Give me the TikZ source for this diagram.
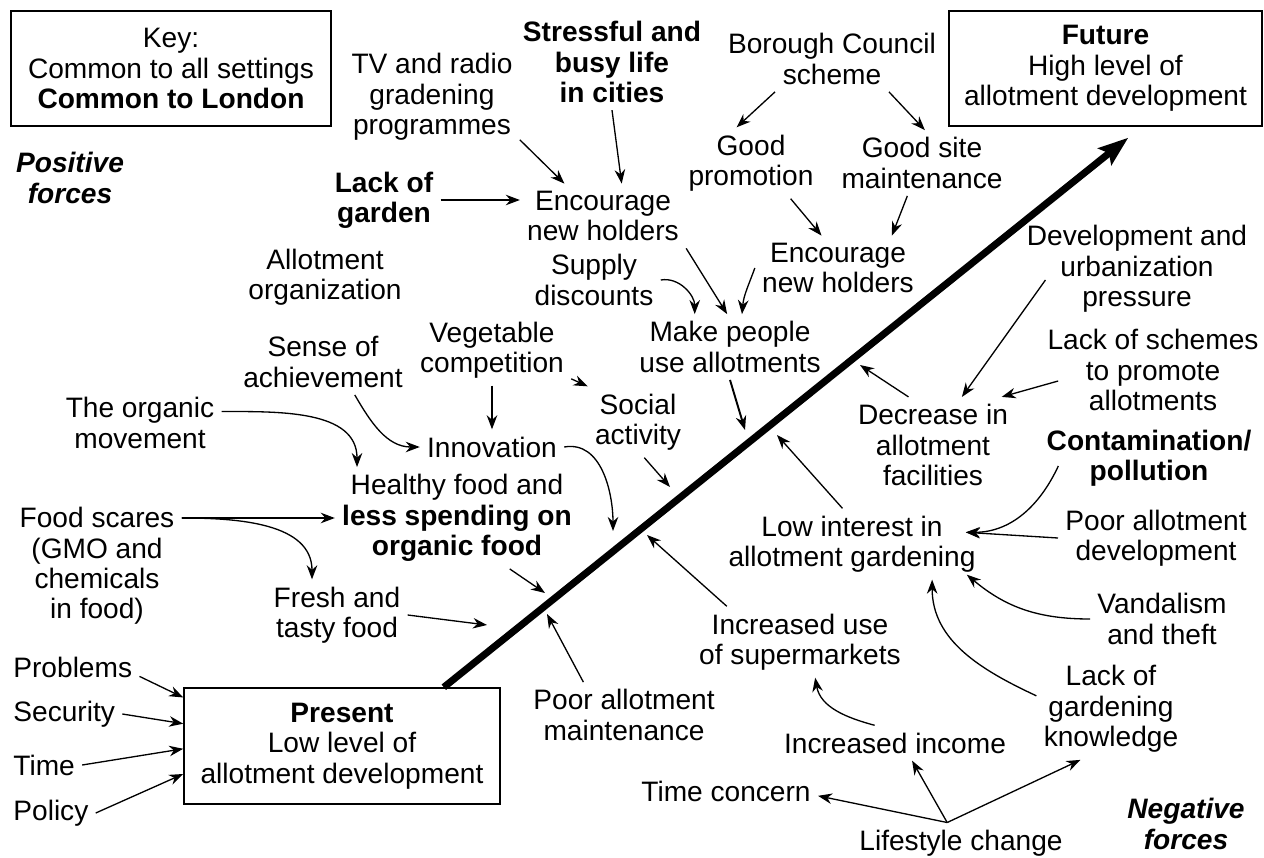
\documentclass[tikz,border=0pt]{standalone}
\usepackage{fontspec}
\setmainfont{Liberation Sans}
\usepackage{tikz}
\usetikzlibrary{positioning,arrows.meta,calc}
\newcommand{\ff}{\fontsize{16}{17.3}\selectfont}
\tikzset{
  fac/.style={align=center,inner sep=4pt,font=\ff},
  bfac/.style={fac,font=\ff\bfseries},
  ifac/.style={fac,font=\ff\bfseries\itshape},
  lbl/.style={anchor=west,inner sep=4pt,font=\ff},
  bx/.style={draw,line width=0.9pt,align=center,font=\ff,minimum height=2.3cm},
  arr/.style={-{Stealth[length=8pt,width=6pt]},line width=0.75pt},
  mainarr/.style={-{Stealth[length=17pt,width=12pt,inset=3pt]},line width=4pt},
}
\begin{document}
\begin{tikzpicture}[x=0.02cm,y=-0.02cm]
  \useasboundingbox (0,0) rectangle (1264,858);
  \node[bx,minimum width=6.4cm] (key) at (171,68.5) {Key:\\Common to all settings\\\textbf{Common to London}};
  \node[bx,minimum width=6.26cm] (future) at (1105.5,68.5) {\textbf{Future}\\High level of\\allotment development};
  \node[bx,minimum width=6.32cm,minimum height=2.32cm] (present) at (342,746) {\textbf{Present}\\Low level of\\allotment development};
  \draw[mainarr,shorten >=10pt] (present.30) -- (future.-58);

  \node[ifac] (pos) at (70,178) {Positive\\forces};
  \node[ifac] (neg) at (1186,824) {Negative\\forces};

  \node[fac] (tv) at (432,97) {TV and radio\\gradening\\programmes};
  \node[bfac] (stress) at (612,62) {Stressful and\\busy life\\in cities};
  \node[fac] (borough) at (832,59) {Borough Council\\scheme};
  \node[fac] (goodp) at (751,163) {Good\\promotion};
  \node[fac] (goods) at (922,163) {Good site\\maintenance};
  \node[bfac] (lackg) at (384,200) {Lack of\\garden};
  \node[fac] (enc1) at (603,216) {Encourage\\new holders};
  \node[fac] (enc2) at (838,268) {Encourage\\new holders};
  \node[fac] (supply) at (594,280) {Supply\\discounts};
  \node[fac] (allot) at (325,277) {Allotment\\organization};
  \node[fac] (make) at (730,347) {Make people\\use allotments};
  \node[fac] (sense) at (323,362) {Sense of\\achievement};
  \node[fac] (veg) at (492,350) {Vegetable\\competition};
  \node[fac] (social) at (638,422) {Social\\activity};
  \node[fac] (innov) at (492,447) {Innovation};
  \node[fac] (organic) at (140,423) {The organic\\movement};
  \node[fac] (healthy) at (457,518) {Healthy food and\\\textbf{less spending on}\\\textbf{organic food}};
  \node[fac] (scares) at (97,566) {Food scares\\(GMO and\\chemicals\\in food)};
  \node[fac] (fresh) at (337,615) {Fresh and\\tasty food};
  \node[lbl] (problems) at (6,667) {Problems};
  \node[lbl] (security) at (6,714) {Security};
  \node[lbl] (time) at (6,765) {Time};
  \node[lbl] (policy) at (6,813) {Policy};
  \node[fac] (poorm) at (624,715) {Poor allotment\\maintenance};

  \node[fac] (devp) at (1137,269) {Development and\\urbanization\\pressure};
  \node[fac] (lacks) at (1153,370) {Lack of schemes\\to promote\\allotments};
  \node[fac] (decr) at (933,445) {Decrease in\\allotment\\facilities};
  \node[bfac] (contam) at (1149,458) {Contamination/\\pollution};
  \node[fac] (lowint) at (852,544) {Low interest in\\allotment gardening};
  \node[fac] (poordev) at (1156,538) {Poor allotment\\development};
  \node[fac] (vand) at (1162,619) {Vandalism\\and theft};
  \node[fac] (incuse) at (800,642) {Increased use\\of supermarkets};
  \node[fac] (lackk) at (1111,709) {Lack of\\gardening\\knowledge};
  \node[fac] (incinc) at (895,743) {Increased income};
  \node[fac] (timec) at (726,791) {Time concern};
  \node[fac] (life) at (961,843) {Lifestyle change};

  \coordinate (tMake) at (745,430);
  \coordinate (tSocial) at (670,487);
  \coordinate (tInnov) at (613,531);
  \coordinate (tHealthy) at (545,593);
  \coordinate (tFresh) at (487,625);
  \coordinate (tPoorM) at (547,614);
  \coordinate (tIncUse) at (647,535);
  \coordinate (tLowInt) at (777,435);
  \coordinate (tDecr) at (860,365);
  \coordinate (lowR) at ($(lowint.north east)+(-17,24)$);

  \draw[arr] (tv.-26) -- (enc1.140);
  \draw[arr] (stress.south) -- (enc1.60);
  \draw[arr] (lackg.east) -- (lackg.east -| enc1.west);
  \draw[arr] (borough.210) -- (goodp.112);
  \draw[arr] (borough.330) -- (goods.85);
  \draw[arr] (goodp.-42) -- (enc2.117);
  \draw[arr] (goods.-114) -- (enc2.31);
  \draw[arr] (supply.east) to[out=10,in=90] (make.137);
  \draw[arr] (enc1.south east) -- (make.95);
  \draw[arr] (enc2.west) to[out=250,in=85] (make.70);
  \draw[arr,line width=1.1pt] (make.south) -- (tMake);
  \draw[arr] (sense.-46) to[out=-60,in=180] (innov.west);
  \draw[arr] (veg.south) -- (innov.north);
  \draw[arr] (veg.-20) -- (social.north west);
  \draw[arr] (social.-80) -- (tSocial);
  \draw[arr] (innov.east) to[out=10,in=90] (tInnov);
  \draw[arr] (organic.8) to[out=0,in=90] (healthy.153);
  \draw[arr] (scares.east |- healthy.west) -- (healthy.west);
  \draw[arr] (scares.east |- healthy.west) to[out=0,in=90] (fresh.125);
  \draw[arr] (healthy.-44) -- (tHealthy);
  \draw[arr] (fresh.east) -- (tFresh);
  \draw[arr] (poorm.141) -- (tPoorM);
  \draw[arr] (incuse.154) -- (tIncUse);
  \draw[arr] (lowint.105) -- (tLowInt);
  \draw[arr] (decr.117) -- (tDecr);
  \draw[arr] ($(devp.west)+(26,11)$) -- (decr.59);
  \draw[arr] ($(lacks.west)+(18,11)$) -- (decr.35);
  \draw[arr] ($(contam.west)+(19,8)$) to[out=-115,in=0] (lowR);
  \draw[arr] (poordev.west) -- (lowR);
  \draw[arr] (vand.west) to[out=180,in=-40] ($(lowint.south east)+(-16,-5)$);
  \draw[arr] (lackk.170) to[out=155,in=-90] (lowint.-24);
  \draw[arr] (incinc.139) to[out=165,in=-80] (incuse.-67);
  \draw[arr] (life.124) -- (timec.-3);
  \draw[arr] (life.124) -- (incinc.-46);
  \draw[arr] (life.124) -- (lackk.-121);
  \draw[arr] (problems.-8) -- (present.163);
  \draw[arr] (security.east) -- (present.172);
  \draw[arr] (time.east) -- (present.181);
  \draw[arr] (policy.east) -- (present.190);
\end{tikzpicture}
\end{document}
